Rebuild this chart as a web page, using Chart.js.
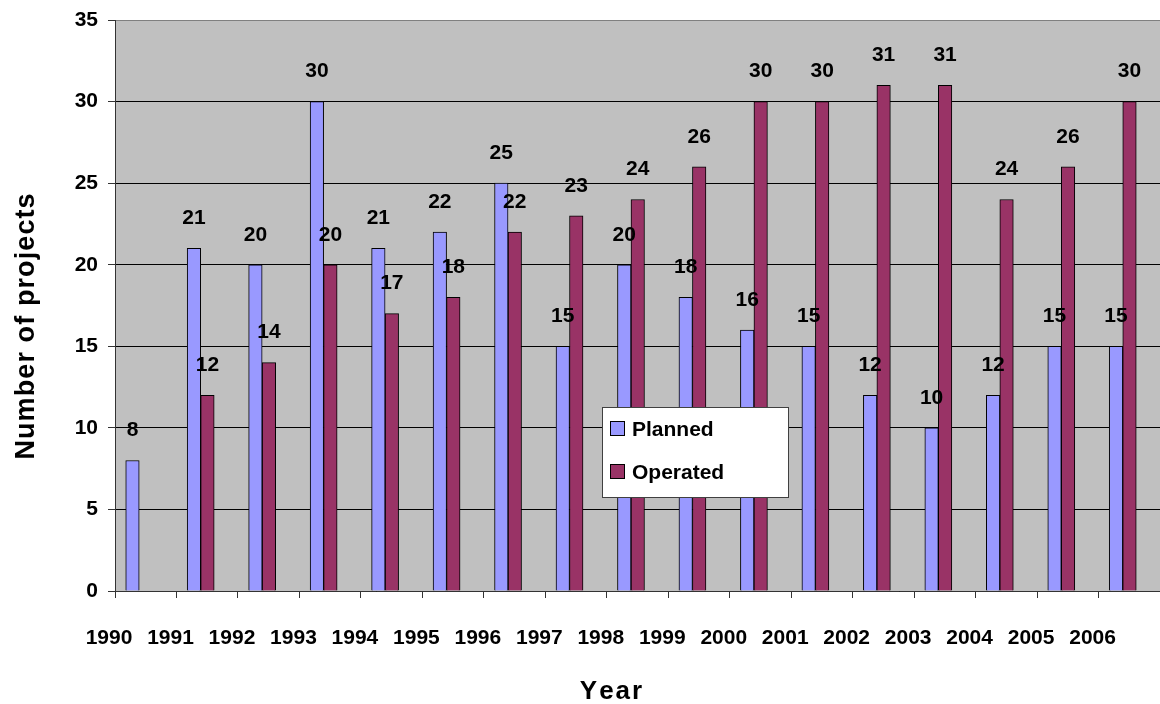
<!DOCTYPE html>
<html>
<head>
<meta charset="utf-8">
<title>Number of projects per year</title>
<script src="https://cdn.jsdelivr.net/npm/chart.js@4/dist/chart.umd.min.js"></script>
<style>
  html, body { margin: 0; padding: 0; background: #ffffff; }
  #wrap { width: 1160px; height: 704px; }
</style>
</head>
<body>
<div id="wrap"><canvas id="chart" width="1160" height="704"></canvas></div>
<script>
// Years on the category axis
const years = [1990, 1991, 1992, 1993, 1994, 1995, 1996, 1997, 1998,
               1999, 2000, 2001, 2002, 2003, 2004, 2005, 2006];

// Projects per year
const planned  = [8, 21, 20, 30, 21, 22, 25, 15, 20, 18, 16, 15, 12, 10, 12, 15, 15];
const operated = [null, 12, 14, 20, 17, 18, 22, 23, 24, 26, 30, 30, 31, 31, 24, 26, 30];

// Value axis ticks
const yTicks = [0, 5, 10, 15, 20, 25, 30, 35];

const seriesNames  = ['Planned', 'Operated'];
const seriesColors = ['#9999FF', '#993366'];

const xTitle = 'Year';
const yTitle = 'Number of projects';

const FONT = '"Liberation Sans", Arial, Helvetica, sans-serif';

// Writes text centred on (cx, y) with a little extra space between the letters
function drawSpaced(ctx, text, cx, y, spacing) {
  const chars = Array.from(text);
  const widths = chars.map(ch => ctx.measureText(ch).width);
  const total = widths.reduce((s, w) => s + w, 0) + spacing * (chars.length - 1);
  let x = cx - total / 2;
  ctx.textAlign = 'left';
  chars.forEach((ch, i) => {
    ctx.fillText(ch, x, y);
    x += widths[i] + spacing;
  });
}

// Grey plot area
const plotBackground = {
  id: 'plotBackground',
  beforeDraw(chart) {
    const { ctx, chartArea: a } = chart;
    ctx.save();
    ctx.fillStyle = '#C0C0C0';
    ctx.fillRect(a.left, a.top, a.right - a.left, a.bottom - a.top);
    ctx.restore();
  }
};

// Axis titles
const axisTitles = {
  id: 'axisTitles',
  afterDraw(chart) {
    const { ctx } = chart;
    ctx.save();
    ctx.fillStyle = '#000';
    ctx.textBaseline = 'alphabetic';
    ctx.font = 'bold 26px ' + FONT;
    drawSpaced(ctx, xTitle, 611, 699, 2);

    ctx.font = 'bold 27px ' + FONT;
    ctx.translate(33.5, 326.5);
    ctx.rotate(-Math.PI / 2);
    drawSpaced(ctx, yTitle, 0, 0, 1.1);
    ctx.restore();
  }
};

// Value written above each bar
const valueLabels = {
  id: 'valueLabels',
  afterDatasetsDraw(chart) {
    const { ctx } = chart;
    ctx.save();
    ctx.font = 'bold 21px ' + FONT;
    ctx.fillStyle = '#000';
    ctx.textAlign = 'center';
    ctx.textBaseline = 'middle';
    chart.data.datasets.forEach((ds, di) => {
      const meta = chart.getDatasetMeta(di);
      meta.data.forEach((bar, i) => {
        const v = ds.data[i].y;
        if (v === null || v === undefined) return;
        ctx.fillText(String(v), bar.x, bar.y - 30);
      });
    });
    ctx.restore();
  }
};

// Boxed legend sitting inside the plot area
const boxLegend = {
  id: 'boxLegend',
  afterDraw(chart) {
    const { ctx, chartArea: a } = chart;
    const x = Math.round(a.left + 487), y = Math.round(a.top + 387);
    const w = 186, h = 90;
    ctx.save();
    ctx.fillStyle = '#ffffff';
    ctx.fillRect(x, y, w, h);
    ctx.strokeStyle = '#404040';
    ctx.lineWidth = 1;
    ctx.strokeRect(x + 0.5, y + 0.5, w, h);
    ctx.font = 'bold 21px ' + FONT;
    ctx.textBaseline = 'middle';
    ctx.textAlign = 'left';
    chart.data.datasets.forEach((ds, i) => {
      const cy = Math.round(y + 22 + i * 42.5);
      ctx.fillStyle = ds.backgroundColor;
      ctx.fillRect(x + 9, cy - 7, 13, 13);
      ctx.strokeStyle = '#000';
      ctx.strokeRect(x + 8.5, cy - 7.5, 14, 14);
      ctx.fillStyle = '#000';
      ctx.fillText(ds.label, x + 30, cy + 1);
    });
    ctx.restore();
  }
};

const datasets = [planned, operated].map((values, s) => ({
  label: seriesNames[s],
  data: values.map((v, i) => ({ x: years[i], y: v })),
  backgroundColor: seriesColors[s],
  borderColor: '#000000',
  borderWidth: 1,
  barThickness: 13.5,
  xAxisID: 'xb',
  yAxisID: 'y'
}));

new Chart(document.getElementById('chart'), {
  type: 'bar',
  data: {
    labels: years.map(String),
    datasets
  },
  options: {
    responsive: false,
    devicePixelRatio: 1,
    animation: false,
    layout: { padding: { top: 20, right: 0, bottom: 0, left: 0 } },
    plugins: {
      legend: { display: false },
      tooltip: { enabled: false }
    },
    scales: {
      // visible year axis: tick marks on category boundaries
      x: {
        type: 'category',
        position: 'bottom',
        offset: true,
        grid: {
          offset: true,
          drawOnChartArea: false,
          drawTicks: true,
          tickLength: 7,
          tickColor: '#333333'
        },
        border: { display: true, color: '#333333', width: 1 },
        ticks: {
          font: { family: FONT, size: 21, weight: 'bold' },
          color: '#000',
          padding: 28,
          labelOffset: -36.7,
          maxRotation: 0,
          autoSkip: false
        },
        afterFit(scale) {
          scale.height = 113;
          scale.paddingLeft = 0;
          scale.paddingRight = 0;
        }
      },
      // bar placement axis, one unit per year
      xb: {
        type: 'linear',
        position: 'bottom',
        display: false,
        offset: false,
        grid: { offset: false },
        min: 1989.606,
        max: 2006.606
      },
      y: {
        type: 'linear',
        position: 'left',
        min: 0,
        max: 35,
        afterBuildTicks(scale) { scale.ticks = yTicks.map(v => ({ value: v })); },
        grid: {
          color: c => (c.tick && c.tick.value === 35 ? '#808080' : '#000000'),
          lineWidth: 1,
          drawTicks: true,
          tickLength: 7,
          tickColor: '#333333'
        },
        border: { display: true, color: '#333333', width: 1 },
        ticks: {
          font: { family: FONT, size: 21, weight: 'bold' },
          color: '#000',
          padding: 10
        },
        afterFit(scale) {
          scale.width = 115;
          scale.paddingTop = 0;
          scale.paddingBottom = 0;
        }
      }
    }
  },
  plugins: [plotBackground, valueLabels, axisTitles, boxLegend]
});
</script>
</body>
</html>
